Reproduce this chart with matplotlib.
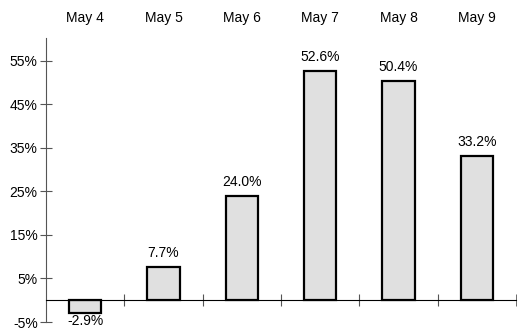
import numpy as np
import matplotlib.pyplot as plt

days = ['May 4', 'May 5', 'May 6', 'May 7', 'May 8', 'May 9']
change = [-2.9, 7.7, 24.0, 52.6, 50.4, 33.2]
yticks = [-5, 5, 15, 25, 35, 45, 55]

plt.rcParams['font.family'] = ['Liberation Sans', 'DejaVu Sans']

fig = plt.figure(figsize=(5.18, 3.29), dpi=100)
ax = fig.add_axes([46/518, 1 - 322/329, 470/518, 284/329])

x = np.arange(len(days))
ax.bar(x, change, width=0.41, color='#e0e0e0', edgecolor='black', linewidth=1.6)

# value labels: above positive bars, below negative ones
for xi, v in zip(x, change):
    if v >= 0:
        ax.annotate('%.1f%%' % v, (xi, v), xytext=(0, 5), textcoords='offset points',
                    ha='center', va='bottom', fontsize=10)
    else:
        ax.annotate('%.1f%%' % v, (xi, v), xytext=(0, -1), textcoords='offset points',
                    ha='center', va='top', fontsize=10)

ax.set_xlim(-0.5, len(days) - 0.5)
ax.set_ylim(-5, 60.2)

# zero line with ticks between the days
ax.spines['bottom'].set_position(('data', 0))
ax.spines['top'].set_visible(False)
ax.spines['right'].set_visible(False)
ax.spines['left'].set_color('#555555')
ax.spines['bottom'].set_color('black')
ax.set_xticks(x[:-1] + 0.5)
ax.set_xticks([len(days) - 0.5], minor=True)
ax.tick_params(axis='x', which='both', direction='inout', length=8, color='#555555', labelbottom=False)

ax.set_yticks(yticks)
ax.set_yticklabels(['%d%%' % t for t in yticks])
ax.tick_params(axis='y', direction='inout', length=8, color='#555555', labelsize=10, pad=2)

# day names along the top
top = ax.secondary_xaxis('top')
top.set_xticks(x)
top.set_xticklabels(days)
top.tick_params(length=0, labelsize=10, pad=9)
top.spines['top'].set_visible(False)

fig.savefig('out.png', dpi=100)
